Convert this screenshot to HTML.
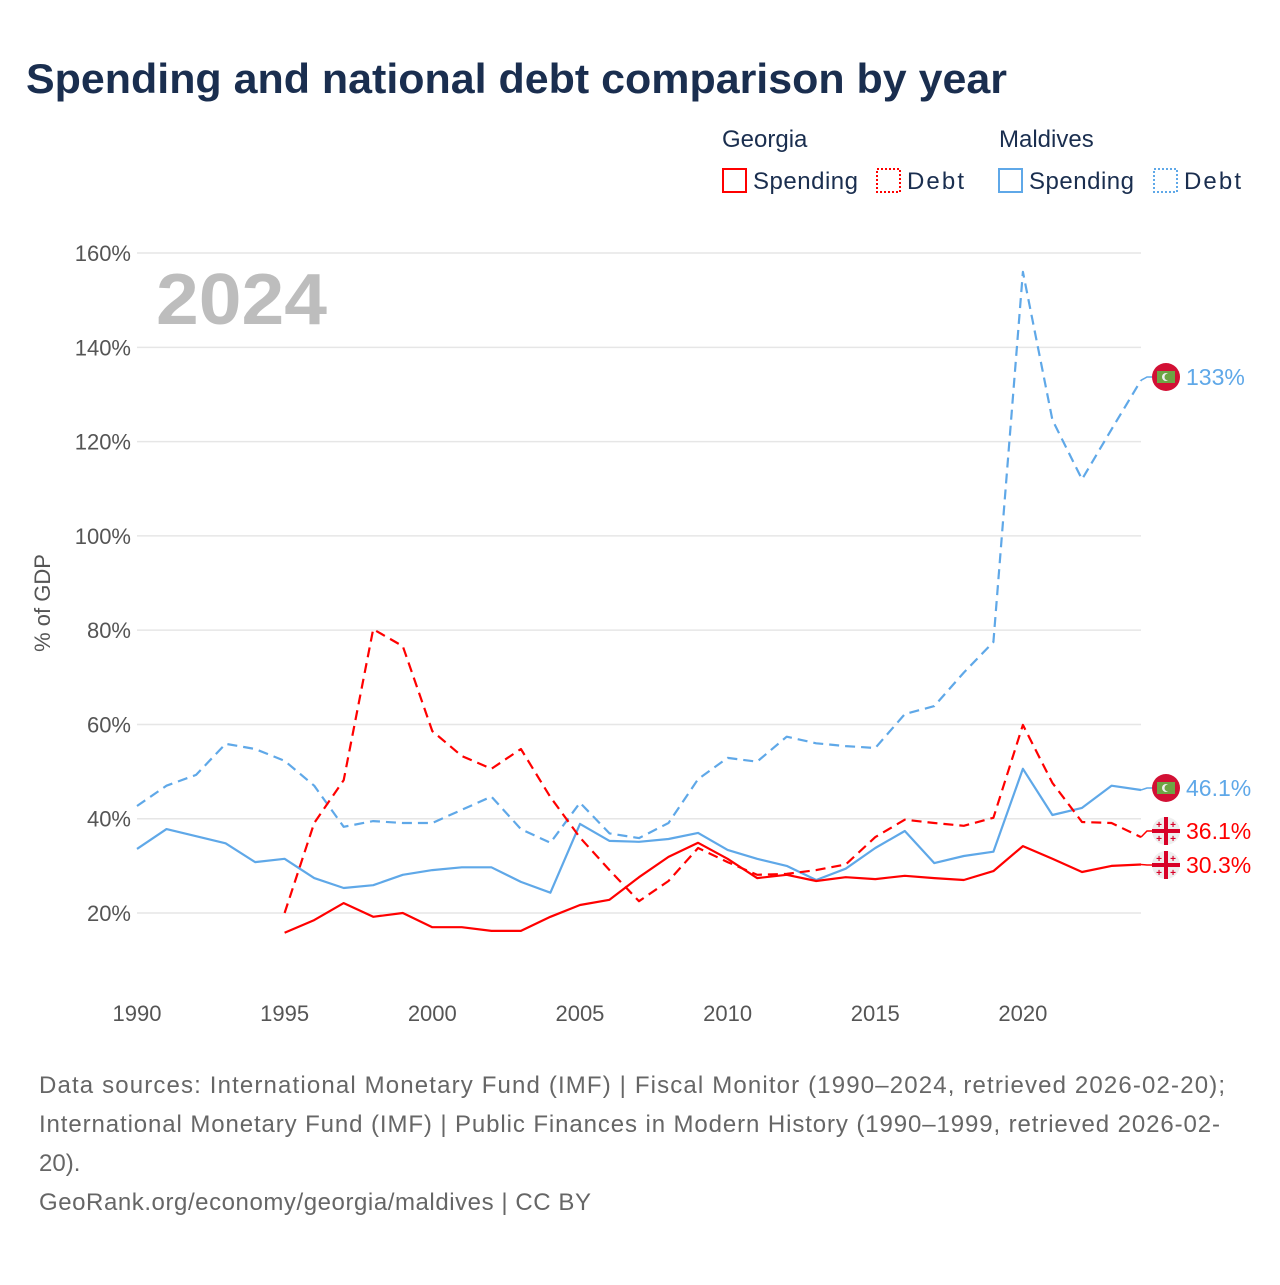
<!DOCTYPE html>
<html><head><meta charset="utf-8">
<style>
body{margin:0;background:#fff;font-family:"Liberation Sans",sans-serif;}
svg text{font-family:"Liberation Sans",sans-serif;}
</style></head>
<body>
<svg id="chart" width="1280" height="1280" viewBox="0 0 1280 1280" xmlns="http://www.w3.org/2000/svg">
<text x="26" y="93" font-size="42" font-weight="bold" fill="#1a2e4f" textLength="981" lengthAdjust="spacingAndGlyphs">Spending and national debt comparison by year</text>
<g font-size="24" fill="#1a2e4f">
<text x="722" y="147" fill="#1a2e4f">Georgia</text>
<text x="999" y="147" fill="#1a2e4f">Maldives</text>
<g><rect x="723" y="169" width="23" height="23" fill="none" stroke="#f00" stroke-width="2"/><text x="753" y="189" fill="#1a2e4f" textLength="105">Spending</text></g>
<g><rect x="877" y="169" width="23" height="23" fill="none" stroke="#f00" stroke-width="2" stroke-dasharray="2,2"/><text x="907" y="189" fill="#1a2e4f" textLength="57">Debt</text></g>
<g><rect x="999" y="169" width="23" height="23" fill="none" stroke="#5fa8e8" stroke-width="2"/><text x="1029" y="189" fill="#1a2e4f" textLength="105">Spending</text></g>
<g><rect x="1154" y="169" width="23" height="23" fill="none" stroke="#5fa8e8" stroke-width="2" stroke-dasharray="2,2"/><text x="1184" y="189" fill="#1a2e4f" textLength="57">Debt</text></g>
</g>
<g id="grid"></g>
<text x="156" y="324" font-size="72" font-weight="bold" fill="#bdbdbd" textLength="171" lengthAdjust="spacingAndGlyphs">2024</text>
<text transform="translate(50,603) rotate(-90)" text-anchor="middle" font-size="22" fill="#555">% of GDP</text>
<g id="series"></g>
<g id="labels"></g>
<g font-size="24" fill="#666">
<text x="39" y="1093" textLength="1186">Data sources: International Monetary Fund (IMF) | Fiscal Monitor (1990–2024, retrieved 2026-02-20);</text>
<text x="39" y="1132" textLength="1181">International Monetary Fund (IMF) | Public Finances in Modern History (1990–1999, retrieved 2026-02-</text>
<text x="39" y="1171">20).</text>
<text x="39" y="1210" textLength="552">GeoRank.org/economy/georgia/maldives | CC BY</text>
</g>
</svg>
<script>
const years=[];for(let y=1990;y<=2024;y++)years.push(y);
const yTicks=[20,40,60,80,100,120,140,160];
const xTicks=[1990,1995,2000,2005,2010,2015,2020];
const maldivesDebt=[42.7,47,49.3,55.9,54.8,52.3,47,38.3,39.5,39.1,39.1,41.9,44.7,37.8,34.9,43.4,36.9,35.9,39.1,48.4,52.9,52.1,57.4,56,55.4,55,62.2,63.9,71,77.5,156,124.6,112,122.6,133];
const maldivesSpending=[33.6,37.8,36.3,34.8,30.8,31.5,27.4,25.3,25.9,28.1,29.1,29.7,29.7,26.6,24.3,38.9,35.3,35.1,35.7,37,33.4,31.5,30,27,29.4,33.8,37.4,30.6,32.1,33,50.6,40.8,42.3,47,46.1];
const georgiaSpending=[null,null,null,null,null,15.8,18.5,22.1,19.2,20,17,17,16.2,16.2,19.2,21.7,22.8,27.6,31.9,34.9,31.5,27.4,28.1,26.8,27.6,27.2,27.9,27.4,27,28.9,34.2,31.5,28.7,30,30.3];
const georgiaDebt=[null,null,null,null,null,20,39.1,48.2,80.2,76.6,58.6,53.3,50.6,54.8,44.6,36,29.1,22.5,26.8,33.8,30.8,28.1,28.3,29.1,30.3,36.1,39.8,39.1,38.5,40.2,59.9,47.6,39.3,39.1,36.1];
const X=y=>137+(y-1990)*29.53;
const Y=v=>1007.3-v*4.714;
const NS="http://www.w3.org/2000/svg";
function mk(t,a,p){const e=document.createElementNS(NS,t);for(const k in a)e.setAttribute(k,a[k]);p.appendChild(e);return e;}
const grid=document.getElementById('grid');
yTicks.forEach(v=>{
 const l=mk('line',{x1:137,x2:1141,y1:Y(v),y2:Y(v),stroke:'#e6e6e6','stroke-width':1.5},grid);
 
 
 const t=mk('text',{x:131,y:Y(v)+8,'text-anchor':'end','font-size':22,fill:'#555'},grid);
 t.textContent=v+'%';
 
 
});
xTicks.forEach(y=>{
 const t=mk('text',{x:X(y),y:1021,'text-anchor':'middle','font-size':22,fill:'#555'},grid);
 t.textContent=y;
 
 
});
const ser=document.getElementById('series');
function line(data,color,dash,name){
 let d='';let started=false;
 data.forEach((v,i)=>{if(v==null)return;d+=(started?'L':'M')+X(years[i]).toFixed(1)+','+Y(v).toFixed(1);started=true;});
 const p=mk('path',{d:d,fill:'none',stroke:color,'stroke-width':2.2,'stroke-linejoin':'round'},ser);
 if(dash)p.setAttribute('stroke-dasharray','10,6');
 
 
}
line(maldivesDebt,'#5fa8e8',true,'maldives-debt-line');
line(maldivesSpending,'#5fa8e8',false,'maldives-spending-line');
line(georgiaDebt,'#f00',true,'georgia-debt-line');
line(georgiaSpending,'#f00',false,'georgia-spending-line');
const lab=document.getElementById('labels');
function endLabel(v,ly,color,text,flag,name){
 const g=mk('g',{},lab);
 
 
 mk('path',{d:`M1141,${Y(v)}L1147,${ly}L1152,${ly}`,stroke:color,fill:'none','stroke-width':1.5},g);
 if(flag==='mv'){
  mk('circle',{cx:1166,cy:ly,r:14,fill:'#d21034'},g);
  mk('rect',{x:1157,y:ly-6,width:18,height:12,fill:'#6da544'},g);
  mk('circle',{cx:1166,cy:ly,r:4,fill:'#eee'},g);
  mk('circle',{cx:1168,cy:ly,r:3.5,fill:'#6da544'},g);
 }else{
  mk('circle',{cx:1166,cy:ly,r:14,fill:'#eee'},g);
  mk('rect',{x:1152,y:ly-2,width:28,height:4,fill:'#d80027'},g);
  mk('rect',{x:1164,y:ly-14,width:4,height:28,fill:'#d80027'},g);
  [[-7,-7],[7,-7],[-7,7],[7,7]].forEach(o=>{mk('text',{x:1166+o[0],y:ly+o[1]+4,'font-size':10,'text-anchor':'middle',fill:'#d80027','font-weight':'bold'},g).textContent='+';});
 }
 const t=mk('text',{x:1186,y:ly+8,'font-size':23,fill:color},g);t.textContent=text;
}
endLabel(maldivesDebt[34],377,'#5fa8e8','133%','mv','label-maldives-debt');
endLabel(maldivesSpending[34],788,'#5fa8e8','46.1%','mv','label-maldives-spending');
endLabel(georgiaDebt[34],831,'#f00','36.1%','ge','label-georgia-debt');
endLabel(georgiaSpending[34],865,'#f00','30.3%','ge','label-georgia-spending');
</script>
</body></html>
